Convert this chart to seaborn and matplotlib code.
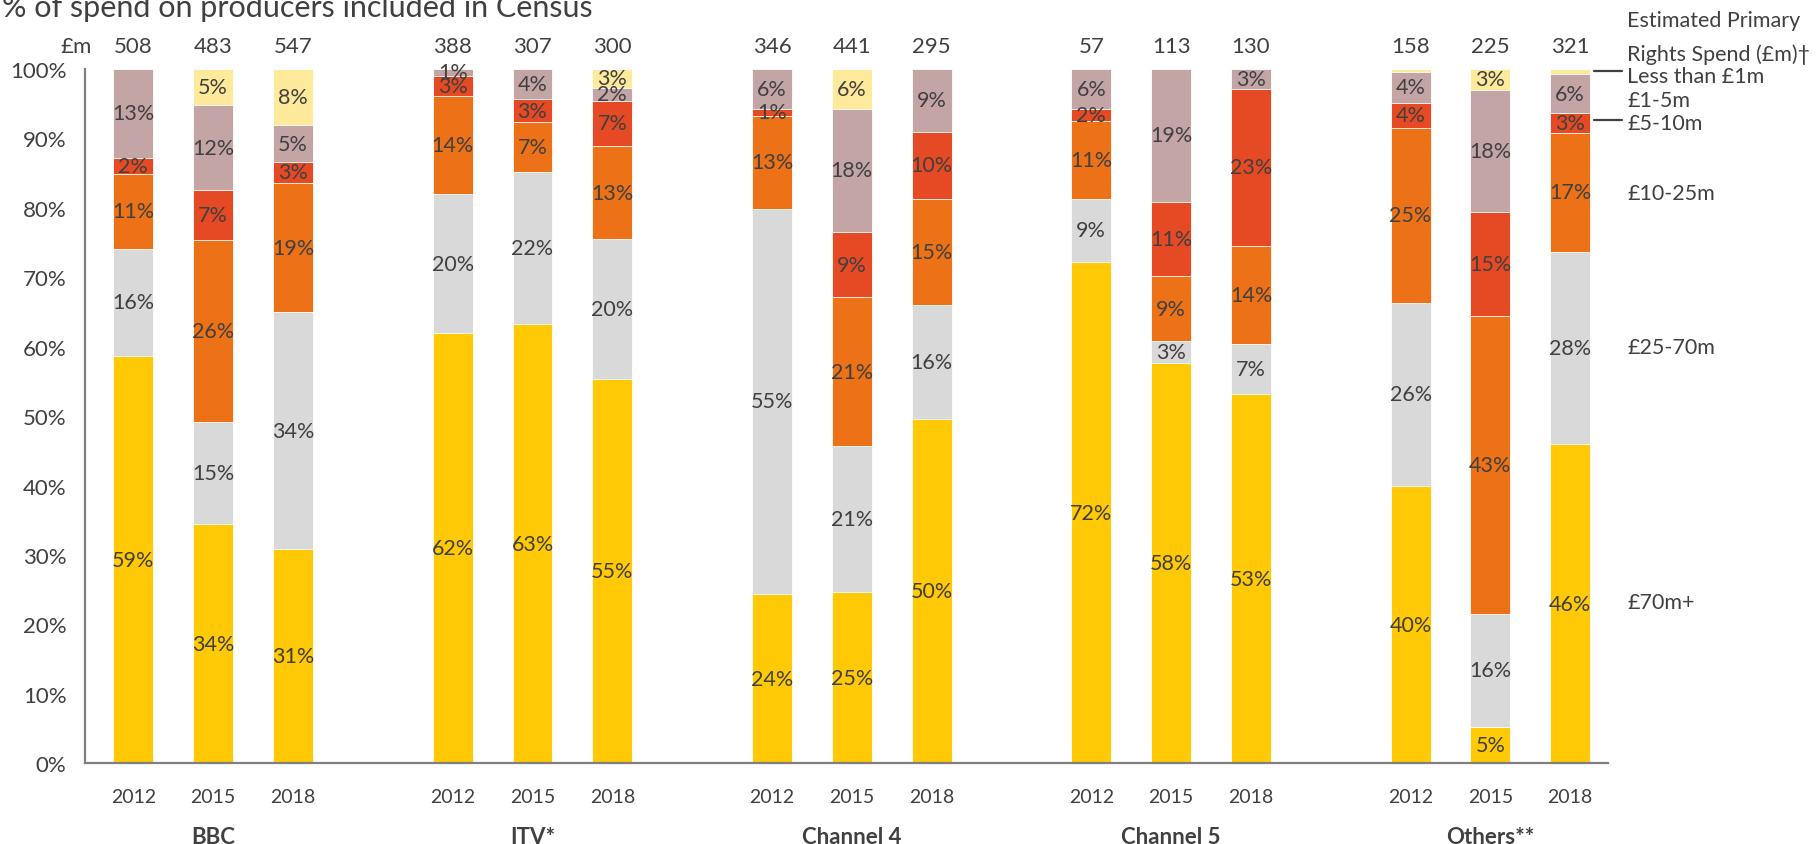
import matplotlib.pyplot as plt
import numpy as np
import pandas as pd
import seaborn as sns

channels = ['BBC', 'ITV*', 'Channel 4', 'Channel 5', 'Others**']
years = ['2012', '2015', '2018']
spend = [508, 483, 547, 388, 307, 300, 346, 441, 295, 57, 113, 130, 158, 225, 321]
bands = ['£70m+', '£25-70m', '£10-25m', '£5-10m', '£1-5m', 'Less than £1m']
colors = ['#FFC905', '#D9D9D9', '#EC7117', '#E54A24', '#C4A5A6', '#FFE99B']

# share of spend (%) per band, bars ordered BBC 2012 ... Others** 2018
p70 = [58.6, 34.4, 30.9, 61.9, 63.3, 55.3, 24.4, 24.7, 49.6, 72.1, 57.6, 53.1, 39.9, 5.3, 46.0]
p25 = [15.5, 14.7, 34.0, 20.1, 21.8, 20.2, 55.4, 21.0, 16.4, 9.2, 3.2, 7.2, 26.4, 16.2, 27.6]
p10 = [10.7, 26.2, 18.7, 14.0, 7.2, 13.3, 13.4, 21.4, 15.3, 11.2, 9.3, 14.2, 25.2, 42.9, 17.2]
p5 = [2.3, 7.2, 2.9, 3.0, 3.3, 6.6, 1.0, 9.4, 9.6, 1.7, 10.7, 22.6, 3.6, 14.9, 2.8]
p1 = [12.9, 12.2, 5.4, 1.0, 4.4, 1.8, 5.8, 17.7, 9.1, 5.8, 19.2, 2.9, 4.4, 17.6, 5.6]
p0 = [0.0, 5.3, 8.1, 0.0, 0.0, 2.8, 0.0, 5.8, 0.0, 0.0, 0.0, 0.0, 0.5, 3.1, 0.8]

sns.set_style('white')
plt.rcParams['font.family'] = ['Lato', 'DejaVu Sans']
txt = '#404040'

# table: one row per bar, with a gap slot between channels
pos = [g * 4 + i for g in range(len(channels)) for i in range(len(years))]
df = pd.DataFrame({'pos': pos, 'year': years * len(channels)})
shares = np.array([p70, p25, p10, p5, p1, p0])
cum = shares.cumsum(axis=0)
for k in range(len(bands)):
    df['cum%d' % k] = cum[k]

W, H = 1819, 845
S = 1.16  # layout measured on a scaled view of the reference
fig = plt.figure(figsize=(W / 100, H / 100), dpi=100)
ax = fig.add_axes([73 * S / W, 1 - 659 * S / H, (1386 - 73) * S / W, (659 - 60) * S / H])

# stacked bars: draw tallest cumulative first, then overlay lower ones
for k in range(len(bands) - 1, -1, -1):
    sns.barplot(data=df, x='pos', y='cum%d' % k, color=colors[k], native_scale=True,
                width=0.5, errorbar=None, saturation=1, ax=ax,
                edgecolor='white', linewidth=0.6)

# segment labels
for j in range(len(pos)):
    for k in range(len(bands)):
        v = shares[k, j]
        if v >= 0.95:
            ax.text(pos[j], cum[k, j] - v / 2, '%d%%' % round(v), ha='center', va='center',
                    fontsize=15.5, color=txt)

ax.set_xlim(-0.61, 18.47)
ax.set_ylim(0, 100)
ax.set_yticks(range(0, 101, 10))
ax.set_yticklabels(['%d%%' % t for t in range(0, 101, 10)], fontsize=16, color=txt)
ax.set_xticks([])
ax.set_xlabel('')
ax.set_ylabel('')
sns.despine(ax=ax)
for s in ['left', 'bottom']:
    ax.spines[s].set_color('#7F7F7F')
    ax.spines[s].set_linewidth(1.6)
ax.tick_params(axis='y', direction='out', length=8, width=1.6, color='#7F7F7F', pad=5)

# years, channel names and totals
for j, p in enumerate(pos):
    ax.text(p, -4.7, df['year'][j], ha='center', va='center', fontsize=14, color=txt)
    ax.text(p, 103.3, str(spend[j]), ha='center', va='center', fontsize=16, color=txt)
for g, name in enumerate(channels):
    ax.text(g * 4 + 1, -10.5, name, ha='center', va='center', fontsize=16,
            fontweight='bold', color=txt)
ax.text(-0.72, 103.3, '£m', ha='center', va='center', fontsize=16, color=txt)

# right-hand band key
def fy(y):
    return 1 - y * S / H

def fx(x):
    return x * S / W

fig.text(fx(1403), fy(18), 'Estimated Primary', fontsize=15.5, color=txt, va='center')
fig.text(fx(1403), fy(47), 'Rights Spend (£m)†', fontsize=15.5, color=txt, va='center')
key_y = [520, 300, 167, 107, 87, 66]
for k, y in enumerate(key_y):
    fig.text(fx(1403), fy(y), bands[k], fontsize=15.5, color=txt, va='center')
for y in [62, 104]:
    fig.add_artist(plt.Line2D([fx(1374), fx(1398)], [fy(y), fy(y)], color='#404040', lw=1.6))

fig.text(fx(2), fy(15), '% of spend on producers included in Census', fontsize=22,
         color=txt, va='baseline')

fig.savefig('out.png', dpi=100)
